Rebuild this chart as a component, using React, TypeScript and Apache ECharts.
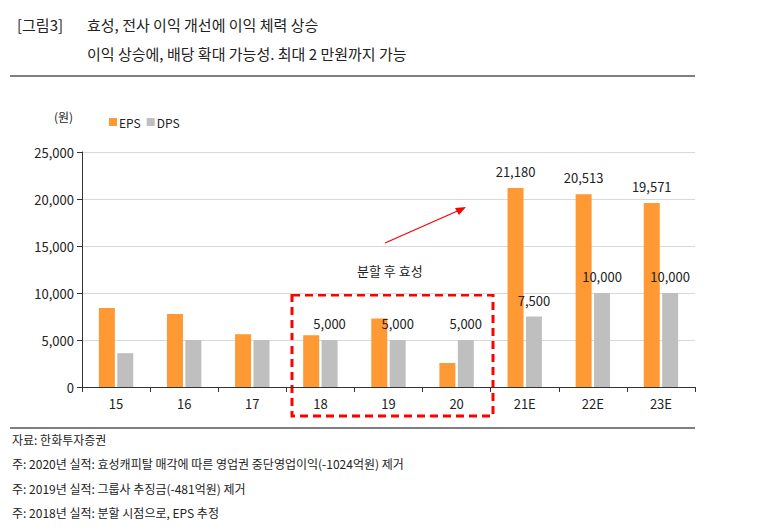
import React, { useEffect, useRef } from "react";
import * as echarts from "echarts";

const categories = ["15", "16", "17", "18", "19", "20", "21E", "22E", "23E"];
const eps = [8400, 7770, 5600, 5500, 7300, 2550, 21180, 20513, 19571];
const dps = [3600, 5000, 5000, 5000, 5000, 5000, 7500, 10000, 10000];
const epsLabeled = [false, false, false, false, false, false, true, true, true];
const dpsLabeled = [false, false, false, true, true, true, true, true, true];
const footnotes = [
  "자료: 한화투자증권",
  "주: 2020년 실적: 효성캐피탈 매각에 따른 영업권 중단영업이익(-1024억원) 제거",
  "주: 2019년 실적: 그룹사 추징금(-481억원) 제거",
  "주: 2018년 실적: 분할 시점으로, EPS 추정",
];

const FONT = "'Noto Sans CJK KR', 'Noto Sans', sans-serif";

export default function App() {
  const ref = useRef<HTMLDivElement>(null);
  useEffect(() => {
    const chart = echarts.init(ref.current!, undefined, { renderer: "svg" });
    const fmt = (p: any) => Number(p.value).toLocaleString("en-US");
    chart.setOption({
      animation: false,
      textStyle: { fontFamily: FONT },
      grid: { left: 82, right: 63, top: 152, bottom: 144 },
      legend: {
        left: 104, top: 111, itemWidth: 8, itemHeight: 8, itemGap: 6, icon: "rect",
        textStyle: { fontSize: 12, color: "#222", padding: [0, 0, 0, -3] },
        data: ["EPS", "DPS"],
      },
      xAxis: {
        type: "category", data: categories,
        axisLine: { lineStyle: { color: "#333" } },
        axisTick: { show: true, lineStyle: { color: "#333" } },
        axisLabel: { color: "#222", fontSize: 13, margin: 10 },
      },
      yAxis: {
        type: "value", min: 0, max: 25000, interval: 5000,
        axisLine: { show: true, lineStyle: { color: "#333" } },
        axisTick: { show: true, lineStyle: { color: "#333" } },
        splitLine: { lineStyle: { color: "#d9d9d9" } },
        axisLabel: { color: "#222", fontSize: 13, formatter: (v: number) => v.toLocaleString("en-US") },
      },
      series: [
        {
          name: "EPS", type: "bar", barWidth: 16, barGap: "15%",
          itemStyle: { color: "#ff9933" },
          data: eps.map((v, i) => ({ value: v, label: { show: epsLabeled[i] } })),
          label: { position: "top", distance: 10, formatter: fmt, color: "#222", fontSize: 13 },
        },
        {
          name: "DPS", type: "bar", barWidth: 16,
          itemStyle: { color: "#bfbfbf" },
          data: dps.map((v, i) => ({ value: v, label: { show: dpsLabeled[i] } })),
          label: { position: "top", distance: 10, formatter: fmt, color: "#222", fontSize: 13 },
        },
      ],
      graphic: [
        { type: "text", left: 17, top: 17, style: { text: "[그림3]", font: `15px ${FONT}`, fill: "#222" } },
        { type: "text", left: 87, top: 17, style: { text: "효성, 전사 이익 개선에 이익 체력 상승", font: `15px ${FONT}`, fill: "#222" } },
        { type: "text", left: 87, top: 46, style: { text: "이익 상승에, 배당 확대 가능성. 최대 2 만원까지 가능", font: `15px ${FONT}`, fill: "#222" } },
        { type: "line", shape: { x1: 10, y1: 76, x2: 695, y2: 76 }, style: { stroke: "#000", lineWidth: 1 } },
        { type: "text", left: 54, top: 110, style: { text: "(원)", font: `12px ${FONT}`, fill: "#222" } },
        { type: "rect", shape: { x: 292, y: 295, width: 201, height: 121 }, style: { fill: "none", stroke: "#ff0000", lineWidth: 3, lineDash: [8, 5] } },
        { type: "text", left: 357, top: 264, style: { text: "분할 후 효성", font: `13px ${FONT}`, fill: "#222" } },
        { type: "line", shape: { x1: 385, y1: 243, x2: 462, y2: 209 }, style: { stroke: "#ff0000", lineWidth: 1.3 } },
        { type: "polygon", shape: { points: [[466, 207], [455, 208], [459, 215]] }, style: { fill: "#ff0000" } },
        { type: "line", shape: { x1: 10, y1: 428, x2: 695, y2: 428 }, style: { stroke: "#000", lineWidth: 1 } },
        ...footnotes.map((t, i) => ({
          type: "text", left: 12, top: 433 + i * 24.5, style: { text: t, font: `12px ${FONT}`, fill: "#222" },
        })),
      ],
    });
    return () => chart.dispose();
  }, []);
  return <div ref={ref} style={{ position: "absolute", left: 0, top: 0, width: 758, height: 531 }} />;
}
